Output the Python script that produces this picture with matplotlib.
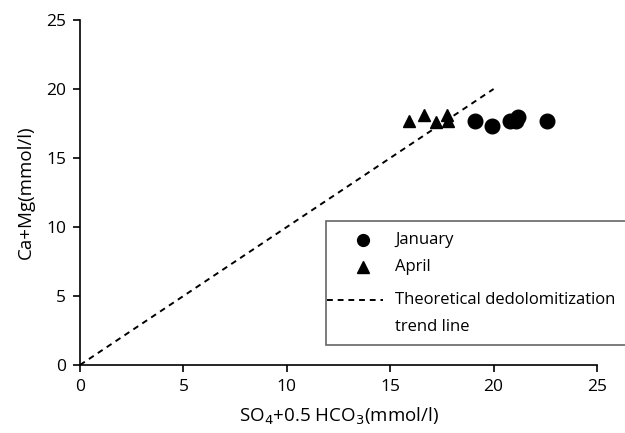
import numpy as np
import matplotlib.pyplot as plt
from matplotlib.lines import Line2D
from matplotlib.patches import Rectangle

plt.rcParams['font.family'] = ['Open Sans', 'DejaVu Sans']

# sample points: SO4 + 0.5 HCO3 vs Ca + Mg (mmol/l)
jan_x = [19.1, 19.9, 20.8, 21.1, 21.2, 22.6]
jan_y = [17.7, 17.3, 17.7, 17.7, 18.0, 17.7]
apr_x = [15.9, 16.65, 17.2, 17.75, 17.8]
apr_y = [17.7, 18.1, 17.6, 18.15, 17.65]

# 1:1 dedolomitization line
trend_x = [0, 20]
trend_y = [0, 20]

W, H = 625, 433
dash = (0, (3, 2.5))

fig = plt.figure(figsize=(W / 100, H / 100), dpi=100)
ax = fig.add_axes([80 / W, 68 / H, 517 / W, 345 / H])

ax.plot(jan_x, jan_y, 'o', color='black', markersize=10.5, zorder=3)
ax.plot(apr_x, apr_y, '^', color='black', markersize=9, zorder=3)
ax.plot(trend_x, trend_y, color='black', linestyle=dash, linewidth=1.4)

ax.set_xlim(0, 25)
ax.set_ylim(0, 25)
ax.set_xticks(np.arange(0, 26, 5))
ax.set_yticks(np.arange(0, 26, 5))
ax.spines['top'].set_visible(False)
ax.spines['right'].set_visible(False)
ax.spines['left'].set_linewidth(1.2)
ax.spines['bottom'].set_linewidth(1.2)
ax.tick_params(direction='out', length=5, width=1.2, labelsize=12.5, pad=5)

ax.set_xlabel('SO$_4$+0.5 HCO$_3$(mmol/l)', fontsize=13.5, labelpad=8)
ax.set_ylabel('Ca+Mg(mmol/l)', fontsize=13.5, labelpad=8)


def fx(px):
    return px / W


def fy(py):
    return 1 - py / H


# legend box, running past the right edge of the figure
fig.patches.append(Rectangle((fx(326), fy(345)), 0.6, (345 - 221) / H,
                             transform=fig.transFigure, facecolor='white',
                             edgecolor='#666666', linewidth=1.2, zorder=4))
fig.lines.append(Line2D([fx(363)], [fy(240)], marker='o', markersize=8.5,
                        color='black', transform=fig.transFigure, zorder=5))
fig.lines.append(Line2D([fx(363)], [fy(267)], marker='^', markersize=8,
                        color='black', transform=fig.transFigure, zorder=5))
fig.lines.append(Line2D([fx(327), fx(383)], [fy(300), fy(300)], color='black',
                        linestyle=dash, linewidth=1.4,
                        transform=fig.transFigure, zorder=5))
legend_rows = [('January', 240), ('April', 267),
               ('Theoretical dedolomitization', 300), ('trend line', 327)]
for label, py in legend_rows:
    fig.text(fx(395), fy(py), label, fontsize=12, va='center', ha='left', zorder=5)

fig.savefig('out.png', dpi=100)
